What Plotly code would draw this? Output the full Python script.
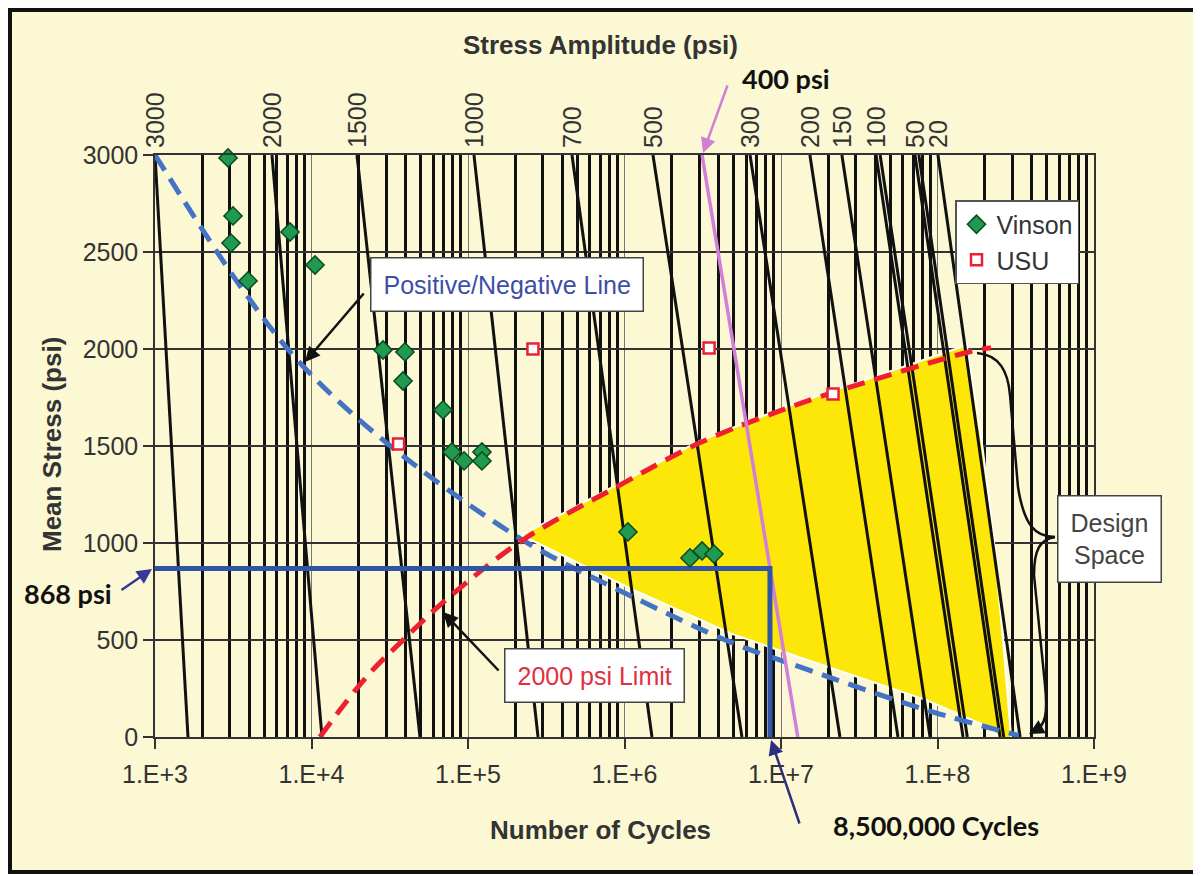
import numpy as np
import plotly.graph_objects as go

# ---------------- data ----------------
# constant stress-amplitude lines: cycles at mean stress 3000 (top) and 0 (bottom)
amp_labels = ["3000", "2000", "1500", "1000", "700", "500", "300", "200", "150", "100", "", "50", "", "20"]
amp_n_top = [1000, 5590, 19530, 109200, 461800, 1.52e6, 6.34e6, 1.53e7, 2.45e7, 4.05e7, 4.3e7, 7.18e7, 7.6e7, 1.007e8]
amp_n_bottom = [1625, 11670, 49350, 280200, 1.498e6, 5.63e6, 2.38e7, 5.59e7, 8.96e7, 1.456e8, 1.55e8, 2.51e8, 2.65e8, 3.37e8]
amp_mean_top = 3000
amp_mean_bottom = 0

vinson_cycles = [2930, 3150, 3060, 3930, 7290, 10530, 28640, 39550, 38450, 69200, 79000, 94300,
                 122800, 122800, 1.052e6, 2.62e6, 3.13e6, 3.73e6]
vinson_mean = [2985, 2686, 2546, 2351, 2603, 2433, 1995, 1985, 1835, 1686, 1469, 1423,
               1469, 1423, 1057, 923, 959, 943]

usu_cycles = [36000, 2.6e5, 3.47e6, 2.15e7]
usu_mean = [1510, 2000, 2005, 1768]

posneg_cycles = [1000, 3650, 8450, 30300, 2.24e5, 1.13e6, 4.9e6, 1.32e7, 8.5e7, 3.3e8]
posneg_mean = [3000, 2304, 1928, 1515, 1015, 722, 485, 361, 139, 8]

limit_cycles = [11300, 22400, 36700, 7.6e4, 2.24e5, 8.9e5, 3.0e6, 1.02e7, 2.1e7, 1.78e8, 2.2e8]
limit_mean = [0, 309, 484, 722, 1015, 1289, 1515, 1686, 1773, 1995, 2005]

design_cycles = [2.2e5, 8.9e5, 3.0e6, 1.02e7, 2.1e7, 1.54e8, 1.95e8, 2.27e8, 2.62e8, 2.99e8,
                 2.0e8, 8.5e7, 1.32e7, 4.9e6, 1.13e6, 2.2e5]
design_mean = [1040, 1300, 1525, 1695, 1782, 2020, 1479, 1052, 500, -50,
               60, 190, 410, 530, 760, 1040]

sel_cycles = [1000, 8.5e6, 8.5e6]
sel_mean = [868, 868, 0]

amp400_cycles = [3.13e6, 1.28e7]
amp400_mean = [3000, 0]

x_ticks = [1e3, 1e4, 1e5, 1e6, 1e7, 1e8, 1e9]
x_tick_text = ["1.E+3", "1.E+4", "1.E+5", "1.E+6", "1.E+7", "1.E+8", "1.E+9"]
y_ticks = [0, 500, 1000, 1500, 2000, 2500, 3000]

# ---------------- layout helpers ----------------
OFF = 8                      # page body margin
W, H = 1201 - OFF, 876 - OFF
L, R, T, B = 155, 1094, 155, 737   # plot area in page pixels
BG = "#fbf8d3"
ARIAL = "Liberation Sans, Arial, sans-serif"
BOLDF = "Lato, Noto Sans, sans-serif"


def pp(px, py):
    return (px - L) / (R - L), (B - py) / (B - T)


fig = go.Figure()

# design space
fig.add_trace(go.Scatter(x=design_cycles, y=design_mean, mode="lines", fill="toself",
                         fillcolor="rgb(252,231,8)", line=dict(color="white", width=2),
                         hoverinfo="skip", showlegend=False))

# constant-amplitude lines
sx, sy = [], []
for nt, nb in zip(amp_n_top, amp_n_bottom):
    sx += [nt, nb, None]
    sy += [amp_mean_top, amp_mean_bottom, None]
fig.add_trace(go.Scatter(x=sx, y=sy, mode="lines", line=dict(color="#111", width=3),
                         hoverinfo="skip", showlegend=False))

# positive / negative line
fig.add_trace(go.Scatter(x=posneg_cycles, y=posneg_mean, mode="lines",
                         line=dict(color="#4472c4", width=5, dash="18px,10px", shape="spline"),
                         showlegend=False))
# 2000 psi limit
fig.add_trace(go.Scatter(x=limit_cycles, y=limit_mean, mode="lines",
                         line=dict(color="#ee2030", width=5, dash="18px,10px", shape="spline"),
                         showlegend=False))
# 400 psi line
fig.add_trace(go.Scatter(x=amp400_cycles, y=amp400_mean, mode="lines",
                         line=dict(color="#d27fd8", width=3.5), showlegend=False))
# 868 psi selection
fig.add_trace(go.Scatter(x=sel_cycles, y=sel_mean, mode="lines",
                         line=dict(color="#2f55a4", width=5), showlegend=False))

# data points
fig.add_trace(go.Scatter(x=vinson_cycles, y=vinson_mean, mode="markers", name="Vinson",
                         cliponaxis=False,
                         marker=dict(symbol="diamond", size=14, color="#1f9a4f",
                                     line=dict(color="#0b4a22", width=1.5))))
fig.add_trace(go.Scatter(x=usu_cycles, y=usu_mean, mode="markers", name="USU",
                         cliponaxis=False,
                         marker=dict(symbol="square", size=11, color="white",
                                     line=dict(color="#e8203a", width=2.5))))

minor_vals = [d * 10 ** k for k in range(3, 9) for d in range(2, 10)]

fig.update_xaxes(type="log", range=[3, 9], tickmode="array", tickvals=x_ticks, ticktext=x_tick_text,
                 showgrid=True, gridcolor="#777", gridwidth=1,
                 minor=dict(tickmode="array", tickvals=minor_vals, showgrid=True,
                            gridcolor="#111", gridwidth=2.5, ticks=""),
                 ticks="outside", ticklen=10, tickwidth=1.5, tickcolor="#333",
                 ticklabelstandoff=4,
                 tickfont=dict(family=ARIAL, size=25, color="#333"),
                 showline=True, linecolor="#333", linewidth=1.5, mirror=True, zeroline=False)
fig.update_yaxes(range=[0, 3000], tickmode="array", tickvals=y_ticks,
                 showgrid=True, gridcolor="#333", gridwidth=2,
                 ticks="outside", ticklen=10, tickwidth=1.5, tickcolor="#333",
                 ticklabelstandoff=0,
                 tickfont=dict(family=ARIAL, size=25, color="#333"),
                 showline=True, linecolor="#333", linewidth=1.5, mirror=True, zeroline=False)

# outer frame
x0, y0 = pp(10, 10)
x1, y1 = pp(1196, 872)
shapes = [dict(type="rect", xref="paper", yref="paper", x0=x0, y0=y1, x1=x1, y1=y0,
               fillcolor=BG, line=dict(color="#111", width=4), layer="below")]


def path(points_cmds):
    s = ""
    for cmd, pts in points_cmds:
        s += cmd + " " + " ".join("%.5f,%.5f" % pp(*p) for p in pts) + " "
    return s.strip()


upper = path([("M", [(977, 353)]), ("C", [(1000, 355), (1008, 372), (1010, 395)]),
              ("L", [(1018, 487)]), ("C", [(1024, 525), (1035, 537), (1055, 537)])])
lower = path([("M", [(1055, 537)]), ("C", [(1040, 539), (1034, 550), (1034, 575)]),
              ("L", [(1045, 685)]), ("C", [(1048, 715), (1045, 725), (1036, 730)])])
for p in (upper, lower):
    shapes.append(dict(type="path", xref="paper", yref="paper", path=p,
                       line=dict(color="#111", width=2.5)))

annotations = []


def ann(px, py, text, **kw):
    x, y = pp(px, py)
    d = dict(x=x, y=y, xref="paper", yref="paper", text=text, showarrow=False,
             xanchor="center", yanchor="middle")
    d.update(kw)
    annotations.append(d)


def arrow(hx, hy, tx, ty, color, width=2.5):
    x, y = pp(hx, hy)
    annotations.append(dict(x=x, y=y, xref="paper", yref="paper", text="", showarrow=True,
                            ax=tx - hx, ay=ty - hy, arrowhead=2, arrowsize=1.2,
                            arrowwidth=width, arrowcolor=color))


# axis titles
ann(600, 45, "<b>Stress Amplitude (psi)</b>", font=dict(family=ARIAL, size=26, color="#333"))
ann(600, 830, "<b>Number of Cycles</b>", font=dict(family=ARIAL, size=26, color="#333"))
ann(52, 445, "<b>Mean Stress (psi)</b>", textangle=-90, font=dict(family=ARIAL, size=26, color="#333"))

# amplitude labels on top of the lines
for lab, nt in zip(amp_labels, amp_n_top):
    if lab:
        annotations.append(dict(x=np.log10(nt), y=amp_mean_top, xref="x", yref="y", text=lab,
                                showarrow=False, textangle=-90, xanchor="center", yanchor="bottom",
                                yshift=5, font=dict(family=ARIAL, size=25, color="#333")))

# callouts
ann(786, 78, "<b>400 psi</b>", font=dict(family=BOLDF, size=27, color="#111"))
arrow(703, 153, 728, 84, "#cf7fd6", 2.5)
ann(68, 593, "<b>868 psi</b>", font=dict(family=BOLDF, size=27, color="#111"))
arrow(152, 569, 120, 591, "#35399a", 2.5)
ann(936, 825, "<b>8,500,000 Cycles</b>", font=dict(family=BOLDF, size=27, color="#111"))
arrow(771, 740, 800, 825, "#2e2e80", 2.5)

ann(507, 284, "Positive/Negative Line", font=dict(family=ARIAL, size=25, color="#3d4ea6"),
    bgcolor="white", bordercolor="#444", borderwidth=1.5, borderpad=12)
arrow(305, 362, 365, 292, "#111", 2.5)
ann(594, 675, "2000 psi Limit", font=dict(family=ARIAL, size=25, color="#e0303f"),
    bgcolor="white", bordercolor="#444", borderwidth=1.5, borderpad=12)
arrow(443, 612, 500, 672, "#111", 2.5)
ann(1109, 539, "Design<br>Space", font=dict(family=ARIAL, size=25, color="#444"),
    bgcolor="white", bordercolor="#444", borderwidth=1.5, borderpad=12)
arrow(1029, 734, 1038, 729, "#111", 2.5)

lx, ly = pp(955, 200)
fig.update_layout(
    width=W, height=H, autosize=False,
    margin=dict(l=L - OFF, r=W - (R - OFF), t=T - OFF, b=H - (B - OFF)),
    paper_bgcolor="white", plot_bgcolor=BG,
    shapes=shapes, annotations=annotations,
    legend=dict(x=lx, y=ly, xanchor="left", yanchor="top", bgcolor="white",
                bordercolor="#555", borderwidth=1.5,
                font=dict(family=ARIAL, size=25, color="#333"), itemwidth=30,
                tracegroupgap=0),
    font=dict(family=ARIAL),
)

fig.write_html("out.html")
